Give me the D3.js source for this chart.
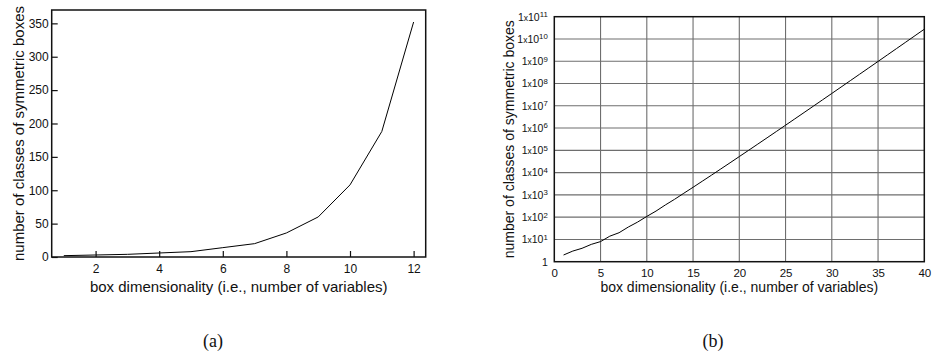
<!DOCTYPE html>
<html>
<head>
<meta charset="utf-8">
<script src="https://cdn.jsdelivr.net/npm/d3@7"></script>
<style>
  body { margin: 0; background: #fff; }
  svg { display: block; font-family: "Liberation Sans", Arial, sans-serif; }
</style>
</head>
<body>
<div id="chart"></div>
<script>
// box dimensionality n and number of classes of symmetric boxes
const dims = [1, 2, 3, 4, 5, 6, 7, 8, 9, 10, 11, 12, 13, 14, 15, 16, 17, 18, 19, 20,
              21, 22, 23, 24, 25, 26, 27, 28, 29, 30, 31, 32, 33, 34, 35, 36, 37, 38, 39, 40];
const counts = [2, 3, 4, 6, 8, 14, 20, 36, 60, 108, 188, 352, 632, 1182, 2192, 4116, 7712,
                14602, 27596, 52488, 99880, 190746, 364724, 699252, 1342184, 2581428,
                4971068, 9587580, 18512792, 35792568, 69273668, 134219796, 260301176,
                505294128, 981706832, 1908881900, 3714566312, 7233642930, 14096303344,
                27487816992];

const leftCount = 12; // panel (a) shows n = 1..12
const leftXTicks = [2, 4, 6, 8, 10, 12];
const leftYTicks = [0, 50, 100, 150, 200, 250, 300, 350];
const rightXTicks = [0, 5, 10, 15, 20, 25, 30, 35, 40];
const rightYTicks = [1, 1e1, 1e2, 1e3, 1e4, 1e5, 1e6, 1e7, 1e8, 1e9, 1e10, 1e11];
const xTitle = "box dimensionality (i.e., number of variables)";
const yTitle = "number of classes of symmetric boxes";
const captions = ["(a)", "(b)"];

const W = 935, H = 358;
const svg = d3.select("#chart").append("svg").attr("width", W).attr("height", H);

const ink = "#111";

function frame(g, x0, y0, x1, y1) {
  g.append("rect")
    .attr("x", x0).attr("y", y0)
    .attr("width", x1 - x0).attr("height", y1 - y0)
    .attr("fill", "none").attr("stroke", ink).attr("stroke-width", 1.5);
}

// ---------- panel (a) ----------
{
  const L = 51.7, R = 425.7, T = 10, B = 257;
  const x = d3.scaleLinear().domain([0.62, 12.38]).range([L, R]);
  const y = d3.scaleLinear().domain([0, 370]).range([B, T]);
  const g = svg.append("g");

  const data = dims.slice(0, leftCount).map((d, i) => [d, counts[i]]);

  const ax = g.append("g").attr("transform", `translate(0,${B})`)
    .call(d3.axisBottom(x).tickValues(leftXTicks).tickSize(-6).tickPadding(7.5).tickFormat(d3.format("d")));
  const ay = g.append("g").attr("transform", `translate(${L},0)`)
    .call(d3.axisLeft(y).tickValues(leftYTicks).tickSize(-6).tickPadding(3).tickFormat(d3.format("d")));
  [ax, ay].forEach(a => {
    a.select(".domain").remove();
    a.selectAll("line").attr("stroke", ink).attr("stroke-width", 1.2);
    a.selectAll("text").attr("fill", ink).attr("font-size", 12)
      .attr("font-family", "Liberation Sans, Arial, sans-serif");
  });

  g.append("path").datum(data)
    .attr("fill", "none").attr("stroke", "#000").attr("stroke-width", 1)
    .attr("d", d3.line().x(d => x(d[0])).y(d => y(d[1])));

  frame(g, L, T, R, B);

  g.append("text").attr("x", (L + R) / 2).attr("y", 291.5)
    .attr("text-anchor", "middle").attr("font-size", 15).attr("fill", ink).text(xTitle);
  g.append("text").attr("transform", `translate(23.5,${(T + B) / 2}) rotate(-90)`)
    .attr("text-anchor", "middle").attr("font-size", 15).attr("fill", ink).text(yTitle);
}

// ---------- panel (b) ----------
{
  const L = 554.3, R = 924.3, T = 16.7, B = 261.7;
  const x = d3.scaleLinear().domain([0, 40]).range([L, R]);
  const y = d3.scaleLog().domain([1, 1e11]).range([B, T]);
  const g = svg.append("g");

  const data = dims.map((d, i) => [d, counts[i]]);

  // grid
  g.append("g").selectAll("line.v").data(rightXTicks.slice(1, -1)).join("line")
    .attr("x1", d => x(d)).attr("x2", d => x(d)).attr("y1", T).attr("y2", B)
    .attr("stroke", "#6e6e6e").attr("stroke-width", 1.1);
  g.append("g").selectAll("line.h").data(rightYTicks.slice(1, -1)).join("line")
    .attr("x1", L).attr("x2", R).attr("y1", d => y(d)).attr("y2", d => y(d))
    .attr("stroke", "#6e6e6e").attr("stroke-width", 1.1);

  const ax = g.append("g").attr("transform", `translate(0,${B})`)
    .call(d3.axisBottom(x).tickValues(rightXTicks).tickSize(0).tickPadding(7.2).tickFormat(d3.format("d")));
  const ay = g.append("g").attr("transform", `translate(${L},0)`)
    .call(d3.axisLeft(y).tickValues(rightYTicks).tickSize(0).tickPadding(6.5));
  [ax, ay].forEach(a => {
    a.select(".domain").remove();
    a.selectAll("text").attr("fill", ink)
      .attr("font-family", "Liberation Sans, Arial, sans-serif");
  });
  ax.selectAll("text").attr("font-size", 11.5);
  ay.selectAll("text").attr("font-size", 10.5).each(function (d) {
    const t = d3.select(this).text(null);
    const e = Math.round(Math.log10(d));
    if (e === 0) { t.text("1"); return; }
    t.append("tspan").text("1");
    t.append("tspan").attr("font-size", 8.5).text("x");
    t.append("tspan").text("10");
    t.append("tspan").attr("font-size", 7.8).attr("dy", "-0.45em").text(e);
  });

  g.append("path").datum(data)
    .attr("fill", "none").attr("stroke", "#000").attr("stroke-width", 1)
    .attr("d", d3.line().x(d => x(d[0])).y(d => y(d[1])));

  frame(g, L, T, R, B);

  g.append("text").attr("x", (L + R) / 2).attr("y", 291.5)
    .attr("text-anchor", "middle").attr("font-size", 14).attr("fill", ink).text(xTitle);
  g.append("text").attr("transform", `translate(513.5,${(T + B) / 2}) rotate(-90)`)
    .attr("text-anchor", "middle").attr("font-size", 14).attr("fill", ink).text(yTitle);
}

// captions
svg.selectAll("text.cap").data(captions).join("text")
  .attr("class", "cap")
  .attr("x", (d, i) => i === 0 ? 213 : 713).attr("y", 347)
  .attr("text-anchor", "middle")
  .attr("font-family", "Liberation Serif, DejaVu Serif, serif")
  .attr("font-size", 18).attr("fill", "#111")
  .text(d => d);
</script>
</body>
</html>
